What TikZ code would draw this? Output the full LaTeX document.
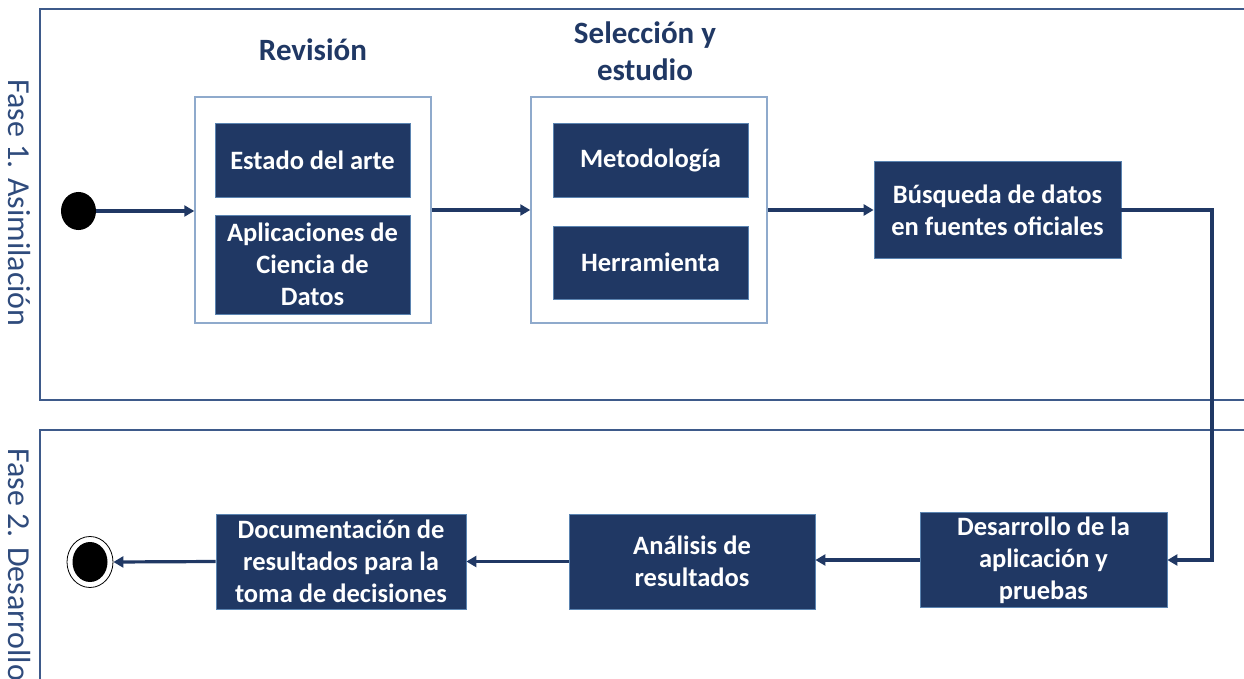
\documentclass[tikz,border=0pt]{standalone}
\usepackage{fontspec}
\setmainfont{Carlito}
\usetikzlibrary{arrows.meta,shapes.geometric}
\definecolor{navy}{HTML}{203864}
\definecolor{boxedge}{HTML}{5B84B1}
\definecolor{contedge}{HTML}{8FAACC}
\definecolor{laneedge}{HTML}{3E5A8A}
\definecolor{lanetext}{HTML}{2F4B7C}
\tikzset{
  box/.style={draw=boxedge, line width=0.8pt, fill=navy, text=white, align=center,
    font=\bfseries\fontsize{26.5}{32}\selectfont, inner sep=0pt},
  container/.style={draw=contedge, line width=1.5pt, fill=white, inner sep=0pt},
  lane/.style={draw=laneedge, line width=1.6pt},
  arr/.style={draw=navy, line width=3.2pt, -{Triangle[length=10pt,width=11pt]}},
  title/.style={text=navy, font=\bfseries\fontsize{31}{37}\selectfont, align=center},
  lanelabel/.style={text=lanetext, font=\fontsize{32}{38}\selectfont, rotate=-90},
}
\begin{document}
\begin{tikzpicture}[x=1pt,y=-1pt]
\useasboundingbox (0,0) rectangle (1244,679);
% swimlanes
\draw[lane] (1244,9) -- (40,9) -- (40,400) -- (1244,400);
\draw[lane] (1244,430) -- (40,430) -- (40,679);
\node[lanelabel] (f1) at (19,203) {Fase 1. Asimilación};
\node[lanelabel, anchor=west] (f2) at (19,445) {Fase 2. Desarrollo};
% titles
\node[title] (trev) at (313,50) {Revisión};
\node[title] (tsel) at (645,51) {Selección y\\estudio};
% containers
\node[container, minimum width=236pt, minimum height=226pt] (rev) at (313,210) {};
\node[container, minimum width=236pt, minimum height=226pt] (sel) at (649,210) {};
% boxes
\node[box, minimum width=195pt, minimum height=74pt] (est) at (312.5,160) {Estado del arte};
\node[box, minimum width=195pt, minimum height=99pt] (apl) at (312.5,264.5) {Aplicaciones de\\Ciencia de\\Datos};
\node[box, minimum width=195pt, minimum height=74pt] (met) at (650.5,160) {Metodología};
\node[box, minimum width=195pt, minimum height=73pt] (her) at (650.5,262.5) {Herramienta};
\node[box, minimum width=247pt, minimum height=97pt] (bus) at (997.5,210) {Búsqueda de datos\\en fuentes oficiales};
\node[box, minimum width=247pt, minimum height=95pt] (des) at (1043.5,560) {Desarrollo de la\\aplicación y\\pruebas};
\node[box, minimum width=246pt, minimum height=95pt] (ana) at (692,561.5) {Análisis de\\resultados};
\node[box, minimum width=250pt, minimum height=95pt] (doc) at (341,561.5) {Documentación de\\resultados para la\\toma de decisiones};
% start / end
\node[ellipse, fill=black, minimum width=35pt, minimum height=38pt, inner sep=0pt] (start) at (78.5,211) {};
\node[ellipse, draw=black, line width=0.8pt, fill=white, minimum width=46pt, minimum height=51pt, inner sep=0pt] (end) at (90,562) {};
\node[ellipse, fill=black, minimum width=35pt, minimum height=40pt, inner sep=0pt] (endin) at (end.center) {};
% connectors
\draw[arr] (start.east) -- (start.east -| rev.west);
\draw[arr] (rev.east) -- (sel.west);
\draw[arr] (sel.east) -- (sel.east -| bus.west);
\coordinate (c1) at (1212,210);
\draw[arr] (bus.east) -- (c1) |- (des.east);
\draw[arr] (des.west) -- (des.west -| ana.east);
\draw[arr] (ana.west) -- (doc.east);
\draw[arr] (doc.west) -- (end.east);
\end{tikzpicture}
\end{document}
